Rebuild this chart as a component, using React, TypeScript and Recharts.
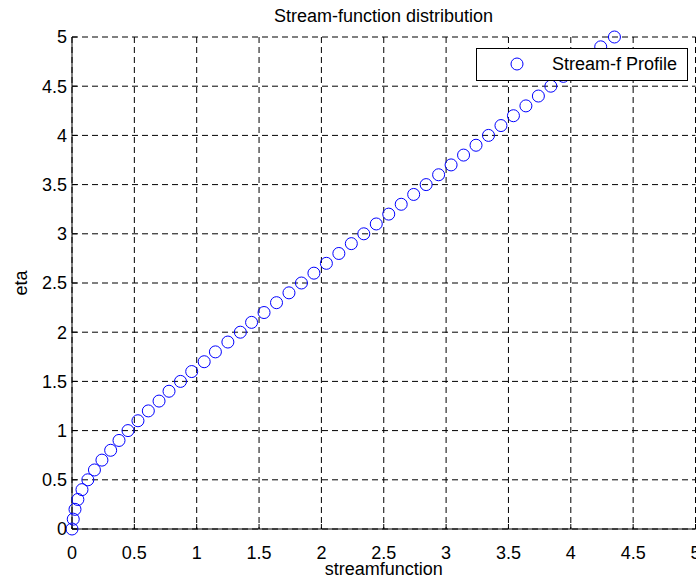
import {
  ScatterChart,
  Scatter,
  XAxis,
  YAxis,
  CartesianGrid,
  Legend,
} from "recharts";

// eta values (0 to 5, step 0.1)
const eta = [
  0, 0.1, 0.2, 0.3, 0.4, 0.5, 0.6, 0.7, 0.8, 0.9,
  1.0, 1.1, 1.2, 1.3, 1.4, 1.5, 1.6, 1.7, 1.8, 1.9,
  2.0, 2.1, 2.2, 2.3, 2.4, 2.5, 2.6, 2.7, 2.8, 2.9,
  3.0, 3.1, 3.2, 3.3, 3.4, 3.5, 3.6, 3.7, 3.8, 3.9,
  4.0, 4.1, 4.2, 4.3, 4.4, 4.5, 4.6, 4.7, 4.8, 4.9,
  5.0,
];

// streamfunction values at each eta
const streamF = [
  0, 0.01, 0.024, 0.047, 0.08, 0.127, 0.18, 0.24, 0.31, 0.377,
  0.449, 0.529, 0.612, 0.698, 0.778, 0.87, 0.96, 1.06, 1.15, 1.25,
  1.35, 1.44, 1.54, 1.64, 1.74, 1.84, 1.94, 2.04, 2.14, 2.24,
  2.34, 2.44, 2.54, 2.64, 2.74, 2.84, 2.94, 3.04, 3.14, 3.24,
  3.34, 3.44, 3.54, 3.64, 3.74, 3.84, 3.94, 4.04, 4.14, 4.24,
  4.35,
];

const xTicks = [0, 0.5, 1, 1.5, 2, 2.5, 3, 3.5, 4, 4.5, 5];
const yTicks = [0, 0.5, 1, 1.5, 2, 2.5, 3, 3.5, 4, 4.5, 5];

const data = eta.map((e, i) => ({ f: streamF[i], eta: e }));

const FONT = '"Liberation Sans", Arial, Helvetica, sans-serif';

const OpenCircle = (props: any) => {
  const { cx, cy } = props;
  return <circle cx={cx} cy={cy} r={6} fill="none" stroke="#0000ff" strokeWidth={1} />;
};

const LegendBox = () => (
  <div
    style={{
      width: 212,
      height: 33,
      boxSizing: "border-box",
      border: "1px solid #000",
      background: "#fff",
      position: "relative",
      fontFamily: FONT,
      fontSize: 18,
      color: "#000",
    }}
  >
    <svg width={30} height={30} style={{ position: "absolute", left: 25, top: 0 }}>
      <circle cx={15} cy={15} r={6} fill="none" stroke="#0000ff" strokeWidth={1} />
    </svg>
    <span style={{ position: "absolute", left: 75, top: 5, lineHeight: "20px", whiteSpace: "nowrap" }}>
      Stream-f Profile
    </span>
  </div>
);

export default function App() {
  return (
    <div
      style={{
        position: "absolute",
        left: 0,
        top: 0,
        width: 696,
        height: 579,
        overflow: "hidden",
        background: "#fff",
        fontFamily: FONT,
      }}
    >
      <div
        style={{
          position: "absolute",
          left: 0,
          top: 6,
          width: 767,
          textAlign: "center",
          fontSize: 18,
          lineHeight: "20px",
          color: "#000",
          whiteSpace: "nowrap",
        }}
      >
        Stream-function distribution
      </div>
      <ScatterChart
        width={700}
        height={579}
        margin={{ top: 37, right: 4.5, bottom: 0, left: 0 }}
        style={{ fontFamily: FONT }}
      >
        <CartesianGrid stroke="#000" strokeDasharray="6 4" />
        <XAxis
          type="number"
          dataKey="f"
          domain={[0, 5]}
          ticks={xTicks}
          height={50}
          tickSize={-5}
          tickMargin={22}
          stroke="#000"
          tick={{ fontSize: 18, fill: "#000" }}
          label={{ value: "streamfunction", position: "insideBottom", offset: 4, fontSize: 18, fill: "#000" }}
        />
        <XAxis
          xAxisId="top"
          orientation="top"
          type="number"
          domain={[0, 5]}
          ticks={xTicks}
          height={0}
          tickSize={-5}
          stroke="#000"
          tickFormatter={() => ""}
        />
        <YAxis
          type="number"
          dataKey="eta"
          domain={[0, 5]}
          ticks={yTicks}
          width={72}
          tickSize={-5}
          tickMargin={10}
          stroke="#000"
          tick={{ fontSize: 18, fill: "#000" }}
          label={{
            value: "eta",
            angle: -90,
            position: "insideLeft",
            offset: 21,
            fontSize: 18,
            fill: "#000",
            style: { textAnchor: "middle" },
          }}
        />
        <YAxis
          yAxisId="right"
          orientation="right"
          type="number"
          domain={[0, 5]}
          ticks={yTicks}
          width={0}
          tickSize={-5}
          stroke="#000"
          tickFormatter={() => ""}
        />
        <Legend
          layout="horizontal"
          verticalAlign="middle"
          align="center"
          content={() => <LegendBox />}
          wrapperStyle={{ position: "absolute", left: 476, top: 48, width: 212, height: 33 }}
        />
        <Scatter
          name="Stream-f Profile"
          data={data}
          shape={<OpenCircle />}
          isAnimationActive={false}
        />
      </ScatterChart>
    </div>
  );
}
